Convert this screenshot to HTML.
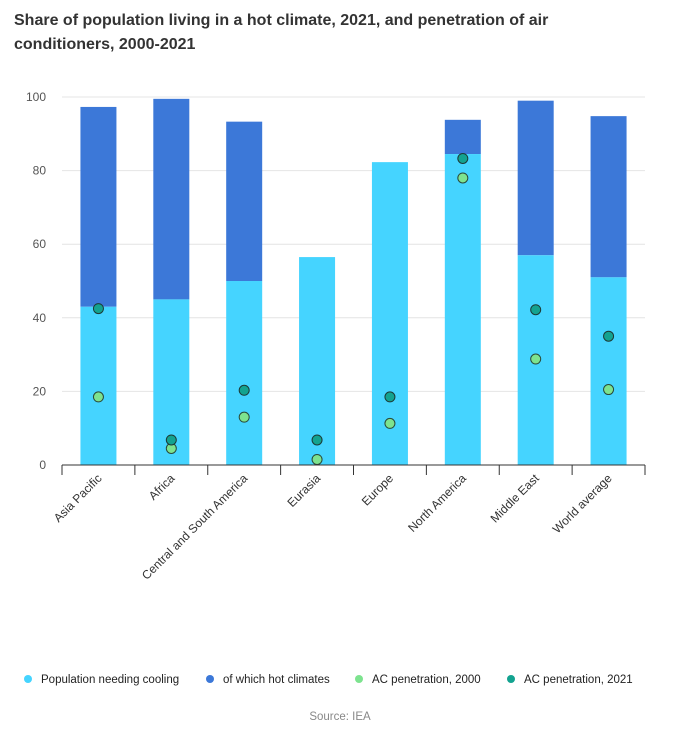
<!DOCTYPE html>
<html><head><meta charset="utf-8"><style>
body{margin:0;background:#fff;font-family:"Liberation Sans",sans-serif;}
svg text{font-family:"Liberation Sans",sans-serif;}
</style></head><body>
<svg id="c" width="673" height="730">
<text x="14" y="25" font-size="16" font-weight="bold" fill="#333">Share of population living in a hot climate, 2021, and penetration of air</text>
<text x="14" y="49" font-size="16" font-weight="bold" fill="#333">conditioners, 2000-2021</text>
<g id="grid"></g><g id="bars"></g><g id="dots"></g><g id="axis"></g>
<g font-size="11.5" fill="#222">
<circle cx="28" cy="679" r="4" fill="#45d4ff"/><text x="41" y="683">Population needing cooling</text>
<circle cx="210" cy="679" r="4" fill="#3c78d8"/><text x="223" y="683">of which hot climates</text>
<circle cx="359" cy="679" r="4" fill="#7de38f"/><text x="372" y="683">AC penetration, 2000</text>
<circle cx="511" cy="679" r="4" fill="#13a390"/><text x="524" y="683">AC penetration, 2021</text>
</g>
<text x="340" y="720" font-size="11.5" fill="#888" text-anchor="middle">Source: IEA</text>
</svg>
<script>
const categories=["Asia Pacific","Africa","Central and South America","Eurasia","Europe","North America","Middle East","World average"];
const needCooling=[43,45,50,56.5,82.3,84.5,57,51];
const totalHot=[97.3,99.5,93.3,56.5,82.3,93.8,99,94.8];
const ac2000=[18.5,4.5,13,1.5,11.3,78,28.8,20.5];
const ac2021=[42.5,6.8,20.3,6.8,18.5,83.3,42.2,35];
const yTicks=[0,20,40,60,80,100];
const NS="http://www.w3.org/2000/svg";
const L=62,R=645,T=97,B=465;
const y=v=>B-(B-T)*v/100;
const step=(R-L)/categories.length;
const xc=i=>L+step*(i+0.5);
const bw=36;
function mk(tag,attrs,parent){const e=document.createElementNS(NS,tag);for(const k in attrs)e.setAttribute(k,attrs[k]);document.getElementById(parent).appendChild(e);return e;}
yTicks.forEach(t=>{
 if(t>0){const g=mk("line",{x1:L,x2:R,y1:y(t),y2:y(t),stroke:"#e4e4e4"},"grid");
 
 }
 const tx=mk("text",{x:46,y:y(t)+4,"font-size":12,fill:"#555","text-anchor":"end"},"grid");tx.textContent=t;
 
 
});
categories.forEach((c,i)=>{
 const x=xc(i)-bw/2;
 const d=mk("rect",{x:x,y:y(totalHot[i]),width:bw,height:y(needCooling[i])-y(totalHot[i]),fill:"#3c78d8"},"bars");
 
 
 const l=mk("rect",{x:x,y:y(needCooling[i]),width:bw,height:B-y(needCooling[i]),fill:"#45d4ff"},"bars");
 
 
 const p1=mk("circle",{cx:xc(i),cy:y(ac2000[i]),r:5,fill:"#7de38f",stroke:"#2a4a3a","stroke-width":1},"dots");
 
 
 const p2=mk("circle",{cx:xc(i),cy:y(ac2021[i]),r:5,fill:"#13a390",stroke:"#1d3a36","stroke-width":1},"dots");
 
 
 const tx=mk("text",{"font-size":12,fill:"#333","text-anchor":"end",transform:`translate(${xc(i)+4},${B+14}) rotate(-45)`},"axis");
 tx.textContent=c;
 
 
});
for(let i=0;i<=categories.length;i++){
 const t=mk("line",{x1:L+step*i,x2:L+step*i,y1:B,y2:B+10,stroke:"#333"},"axis");
 
 
}
const ax=mk("line",{x1:L,x2:R,y1:B,y2:B,stroke:"#333"},"axis");


</script>
</body></html>
